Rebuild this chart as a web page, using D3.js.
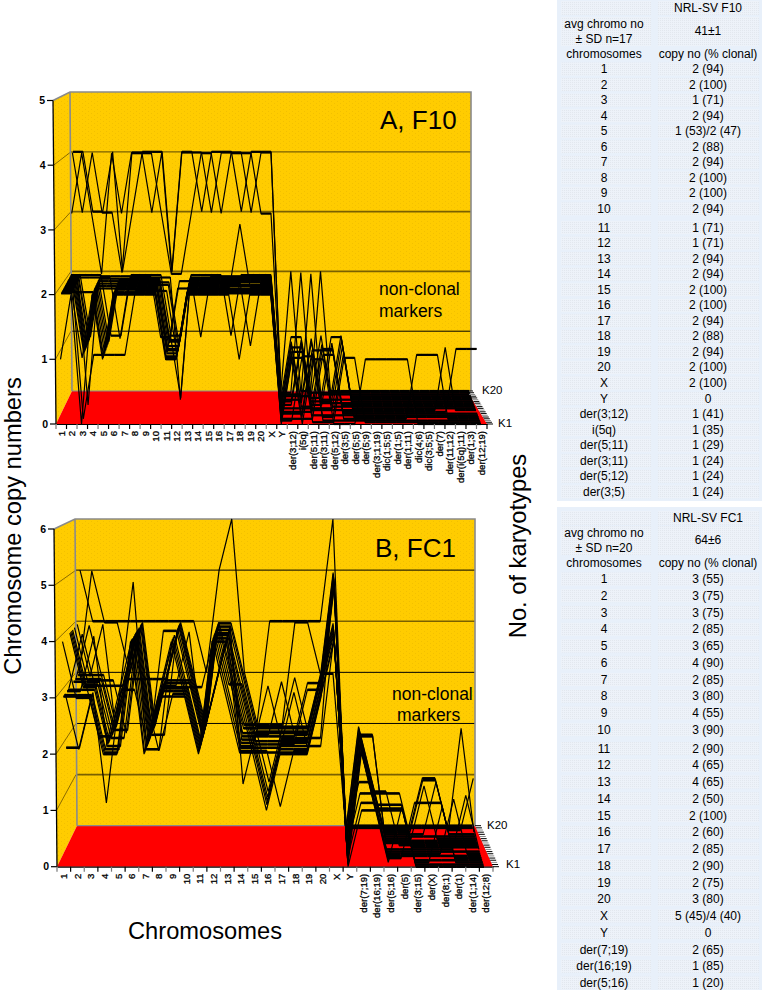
<!DOCTYPE html>
<html>
<head>
<meta charset="utf-8">
<script src="https://cdn.jsdelivr.net/npm/d3@7"></script>
<style>
  body { margin: 0; background: #fff; }
  text { font-family: "Liberation Sans", Arial, sans-serif; fill: #000; }
</style>
</head>
<body>
<svg id="fig" width="762" height="990"></svg>
<script>
// categories
const f10Chromosomes = ['1','2','3','4','5','6','7','8','9','10','11','12','13','14','15','16','17','18','19','20','X','Y',
  'der(3;12)','i(5q)','der(5;11)','der(3;11)','der(5;12)','der(3;5)','der(5;5)','der(5;9)','der(3;1;19)','dic(1;5;5)','der(1;5)',
  'der(1;11)','dic(4;6)','dic(3;5;5)','der(7)','der(11;12)','der(i(5q);11)','der(1;3)','der(12;19)'];
const fc1Chromosomes = ['1','2','3','4','5','6','7','8','9','10','11','12','13','14','15','16','17','18','19','20','X','Y',
  'der(7;19)','der(16;19)','der(5;16)','der(5)','der(3;15)','der(X)','der(8;1)','der(1)','der(1;14)','der(12;8)'];

// copy numbers per karyotype, panel A
const f10K1  = [1,2,0,2,1,2,2,2,2,2,1,1,2,2,2,2,2,1,2,2,2,0, 1,0,1,1,0,0,0,1,1,1,1,1,0,0,0,0,0,0,0];
const f10K2  = [2,2,1,2,1,2,2,2,2,2,1,1,2,2,2,2,2,2,2,2,2,0, 1,1,0,0,0,1,1,0,0,0,0,0,0,0,0,0,0,0,0];
const f10K3  = [2,2,2,2,1,2,2,2,2,2,1,1,2,2,2,2,2,2,2,2,2,0, 0,1,1,0,0,0,0,0,0,0,0,0,0,0,0,0,0,0,0];
const f10K4  = [2,2,0,1,1,1,1,2,2,2,2,1,2,2,2,2,2,2,2,2,2,0, 0,0,0,1,1,0,0,0,0,0,0,0,1,1,1,0,0,0,0];
const f10K5  = [2,2,1,2,1,2,2,2,2,2,1,1,2,2,2,2,2,2,2,2,2,0, 1,0,1,0,0,1,0,0,0,0,0,0,0,0,0,0,0,0,0];
const f10K6  = [2,2,1,2,2,2,2,2,2,2,1,2,2,2,2,2,2,2,2,2,2,0, 1,1,0,0,0,0,0,0,0,0,0,0,0,0,0,0,0,0,0];
const f10K7  = [2,2,1,2,1,2,2,2,2,2,1,1,2,2,2,2,2,3,2,2,2,0, 0,0,1,1,1,0,0,0,0,0,0,0,0,0,0,0,0,0,0];
const f10K8  = [2,2,1,2,2,2,2,2,2,2,1,1,2,2,2,2,2,2,2,2,2,0, 0,0,0,1,1,0,0,0,0,0,0,0,0,0,0,0,1,1,1];
const f10K9  = [2,2,1,2,1,2,2,2,2,2,2,1,2,2,2,2,2,2,2,2,2,0, 1,1,0,0,0,0,0,0,0,0,0,0,0,0,0,1,0,0,0];
const f10K10 = [2,2,1,2,2,2,2,2,2,2,1,1,2,2,2,2,2,2,1,2,2,0, 0,0,0,0,0,1,0,0,0,0,0,0,0,0,0,0,0,0,0];
const f10K11 = [2,2,1,2,1,2,2,2,2,2,2,1,2,2,2,2,2,2,2,2,2,0, 1,0,0,1,0,0,0,0,0,0,0,0,0,0,0,0,0,0,0];
const f10K12 = [2,2,0,2,2,2,2,2,2,2,1,2,2,2,2,2,2,2,2,2,2,0, 0,1,0,0,1,0,0,0,0,0,0,0,0,0,0,0,0,0,0];
const f10K13 = [2,2,1,2,1,2,2,2,2,2,1,1,2,2,2,2,2,2,2,2,2,0, 1,0,1,0,0,0,0,0,0,0,0,0,0,0,0,0,0,0,0];
const f10K14 = [2,2,1,2,2,2,2,2,2,2,1,1,2,2,2,2,2,2,2,2,2,0, 0,1,0,0,0,1,0,0,0,0,0,0,0,0,0,0,0,0,0];
const f10K15 = [2,2,2,2,2,1,2,2,2,2,2,0,2,2,2,2,2,2,2,2,2,0, 0,0,1,0,0,0,0,0,0,0,0,0,0,0,0,0,0,0,0];
const f10K16 = [2,2,1,2,2,2,2,2,2,1,1,0,2,1,2,2,2,2,2,2,2,0, 1,1,0,0,1,1,0,0,0,0,0,0,0,0,0,0,0,0,0];
const f10K17 = [2,2,2,2,1,1,2,2,2,2,1,1,2,2,2,2,1,2,2,2,2,0, 0,0,0,1,0,1,0,0,0,0,0,0,0,0,0,0,0,0,0];
const f10K18 = [3,4,3,2,4,3,4,4,4,3,2,2,3,4,4,3,4,4,4,3,3,0, 0,0,2,0,0,0,0,0,0,0,0,0,0,0,0,0,0,0,0];
const f10K19 = [4,3,4,3,3,2,4,4,3,4,2,4,4,4,3,4,4,4,3,4,4,0, 0,2,0,0,0,0,0,0,0,0,0,0,0,0,0,0,0,0,0];
const f10K20 = [4,4,3,3,4,2,3,4,4,4,2,4,4,3,4,4,4,3,4,4,4,0, 2,0,0,2,0,0,0,0,0,0,0,0,0,0,0,0,0,0,0];
const f10Rows = [f10K1,f10K2,f10K3,f10K4,f10K5,f10K6,f10K7,f10K8,f10K9,f10K10,f10K11,f10K12,f10K13,f10K14,f10K15,f10K16,f10K17,f10K18,f10K19,f10K20];

// copy numbers per karyotype, panel B
const fc1K1  = [4,3,3,2,2,4,2,3,4,3,2,4,4,3,2,1,2,2,2,3,5,0, 1,1,1,1,0,0,0,0,0,0];
const fc1K2  = [3,3,3,2,2,4,2,3,3,3,2,4,3,2,2,2,2,2,2,3,4,0, 2,1,1,1,0,0,0,0,0,0];
const fc1K3  = [3,3,3,2,3,4,3,2,4,3,2,3,4,2,2,2,1,2,2,3,5,0, 2,1,0,1,0,0,1,0,0,0];
const fc1K4  = [3,2,3,2,2,4,2,2,3,3,2,4,4,3,2,1,2,2,2,3,4,0, 2,1,1,1,0,0,0,0,0,0];
const fc1K5  = [2,2,3,1,3,5,2,3,4,3,2,4,3,2,2,2,2,3,2,3,5,0, 1,1,0,0,1,1,1,0,0,0];
const fc1K6  = [3,3,4,2,2,4,2,3,3,3,2,3,4,2,2,1,2,2,2,2,4,0, 2,1,0,0,0,0,0,0,0,0];
const fc1K7  = [3,3,3,2,3,3,2,3,4,3,2,4,4,3,2,2,2,2,3,3,5,0, 2,1,0,0,0,0,0,1,0,0];
const fc1K8  = [3,4,3,2,3,4,2,3,3,3,2,4,3,2,2,1,2,2,2,3,4,0, 2,1,0,0,0,0,0,0,0,0];
const fc1K9  = [4,3,3,2,3,4,2,3,3,3,3,4,4,3,2,2,2,2,2,3,5,0, 2,1,0,0,0,0,0,0,1,0];
const fc1K10 = [4,3,3,3,3,4,2,3,3,4,2,3,4,2,2,3,2,2,2,3,4,0, 1,1,1,1,0,0,0,0,0,0];
const fc1K11 = [4,3,3,2,2,4,2,4,4,3,2,4,3,3,2,1,2,2,2,2,5,0, 2,1,1,0,0,0,0,0,0,0];
const fc1K12 = [4,3,2,2,3,4,2,3,3,3,2,4,4,2,2,2,2,2,3,3,4,0, 2,2,0,0,0,0,0,0,0,0];
const fc1K13 = [3,3,3,2,3,4,2,2,4,3,2,3,4,3,2,2,3,2,2,3,5,0, 2,2,0,0,0,0,0,0,0,0];
const fc1K14 = [4,3,3,3,2,4,2,3,3,3,2,4,3,2,2,2,2,2,2,3,4,0, 2,1,0,0,0,1,0,0,0,0];
const fc1K15 = [3,3,3,2,3,3,3,3,4,3,2,4,4,1,2,2,2,2,2,3,5,0, 2,1,0,0,0,0,0,0,0,0];
const fc1K16 = [3,4,3,2,2,4,2,3,4,3,2,3,4,3,2,1,2,3,2,3,4,0, 1,1,0,0,0,0,1,0,0,0];
const fc1K17 = [4,3,4,2,3,4,2,3,4,3,2,4,3,2,2,2,2,2,2,3,5,0, 2,1,0,0,0,1,1,0,2,0];
const fc1K18 = [3,3,3,2,3,4,2,3,4,3,2,4,4,3,2,2,2,2,2,3,4,0, 2,1,0,0,0,1,1,0,0,1];
const fc1K19 = [3,5,4,4,3,4,2,3,4,3,2,4,3,2,2,2,2,4,4,3,3,0, 0,0,0,0,0,0,0,0,0,0];
const fc1K20 = [5,4,4,4,4,4,4,4,4,4,3,5,6,3,2,4,4,4,4,4,6,0, 0,0,0,0,0,0,0,0,0,0];
const fc1Rows = [fc1K1,fc1K2,fc1K3,fc1K4,fc1K5,fc1K6,fc1K7,fc1K8,fc1K9,fc1K10,fc1K11,fc1K12,fc1K13,fc1K14,fc1K15,fc1K16,fc1K17,fc1K18,fc1K19,fc1K20];

// tick labels
const f10Ticks = [0,1,2,3,4,5];
const fc1Ticks = [0,1,2,3,4,5,6];

// table contents
const f10TableChromo = ['1','2','3','4','5','6','7','8','9','10','11','12','13','14','15','16','17','18','19','20','X','Y',
  'der(3;12)','i(5q)','der(5;11)','der(3;11)','der(5;12)','der(3;5)'];
const f10TableCopy = ['2 (94)','2 (100)','1 (71)','2 (94)','1 (53)/2 (47)','2 (88)','2 (94)','2 (100)','2 (100)','2 (94)',
  '1 (71)','1 (71)','2 (94)','2 (94)','2 (100)','2 (100)','2 (94)','2 (88)','2 (94)','2 (100)','2 (100)','0',
  '1 (41)','1 (35)','1 (29)','1 (24)','1 (24)','1 (24)'];
const fc1TableChromo = ['1','2','3','4','5','6','7','8','9','10','11','12','13','14','15','16','17','18','19','20','X','Y',
  'der(7;19)','der(16;19)','der(5;16)'];
const fc1TableCopy = ['3 (55)','3 (75)','3 (75)','2 (85)','3 (65)','4 (90)','2 (85)','3 (80)','4 (55)','3 (90)',
  '2 (90)','4 (65)','4 (65)','2 (50)','2 (100)','2 (60)','2 (85)','2 (90)','2 (75)','3 (80)','5 (45)/4 (40)','0',
  '2 (65)','1 (85)','1 (20)'];

const GOLD = '#ffcc00', RED = '#ff0000', WALL = '#8a8a8a';
const svg = d3.select('#fig');

// faint dots on the walls and table cells
const defs = svg.append('defs');
const dots = defs.append('pattern').attr('id', 'wallDots').attr('width', 6).attr('height', 4)
  .attr('patternUnits', 'userSpaceOnUse');
dots.append('rect').attr('width', 6).attr('height', 4).attr('fill', GOLD);
dots.append('rect').attr('x', 1).attr('y', 1).attr('width', 1).attr('height', 1).attr('fill', '#f2c000');
dots.append('rect').attr('x', 4).attr('y', 3).attr('width', 1).attr('height', 1).attr('fill', '#f2c000');
const cell = defs.append('pattern').attr('id', 'cellDots').attr('width', 2).attr('height', 2)
  .attr('patternUnits', 'userSpaceOnUse');
cell.append('rect').attr('width', 2).attr('height', 2).attr('fill', '#edf2f9');
cell.append('rect').attr('width', 1).attr('height', 1).attr('fill', '#e2e7ee');

const poly = pts => 'M' + pts.map(p => p.join(',')).join('L') + 'Z';

const drawPanel = (p) => {
  const g = svg.append('g');
  const n = p.categories.length, maxV = d3.max(p.ticks);
  const depth = d3.scaleLinear().domain([0, p.rows.length - 1]).range([0, 1]);

  // front and back planes of the 3D box
  const frontX = d3.scaleLinear().domain([0, n - 1]).range(p.frontX);
  const backX = d3.scaleLinear().domain([0, n - 1]).range(p.backX);
  const frontY = d3.scaleLinear().domain([0, maxV]).range(p.frontY);
  const backY = d3.scaleLinear().domain([0, maxV]).range(p.backY);
  const px = (i, k) => frontX(i) + (backX(i) - frontX(i)) * depth(k);
  const py = (v, k) => frontY(v) + (backY(v) - frontY(v)) * depth(k);

  const axisX = d3.scaleLinear().domain([0, maxV]).range([p.floor[0][0], p.sideTop[0]]);
  const b = p.back;

  // walls and floor
  g.append('path').attr('d', poly([p.sideTop, [b.left, b.top], [b.left + 2, b.bottom], p.floor[0]]))
    .attr('fill', 'url(#wallDots)');
  g.append('path').attr('d', poly([[b.left, b.top], [b.right, b.top], [b.right, b.bottom], [b.left + 2, b.bottom]]))
    .attr('fill', 'url(#wallDots)');
  g.append('path').attr('d', poly([p.floor[0], [b.left + 2, b.bottom], p.floor[1], p.floor[2]]))
    .attr('fill', RED);

  // grid on the back and side walls
  const inner = p.ticks.filter(v => v > 0 && v < maxV);
  g.selectAll('.gridBack').data(inner).join('line')
    .attr('x1', b.left + 1).attr('x2', b.right)
    .attr('y1', v => backY(v)).attr('y2', v => backY(v))
    .attr('stroke', (v, i) => p.gridColors[i]).attr('stroke-width', (v, i) => p.gridWidths[i]);
  g.selectAll('.gridSide').data(inner).join('line')
    .attr('x1', v => axisX(v)).attr('x2', b.left + 1)
    .attr('y1', v => frontY(v)).attr('y2', v => backY(v))
    .attr('stroke', '#8a6a00').attr('stroke-width', 1);

  // frame
  g.append('path').attr('d', 'M' + p.sideTop.join(',') + 'L' + b.left + ',' + b.top + 'L' + b.right + ',' + b.top + 'L' + b.right + ',' + b.bottom)
    .attr('fill', 'none').attr('stroke', WALL).attr('stroke-width', 1.6);
  g.append('line').attr('x1', b.left).attr('y1', b.top).attr('x2', b.left + 2).attr('y2', b.bottom)
    .attr('stroke', WALL).attr('stroke-width', 1.6);
  g.append('line').attr('x1', b.left + 2).attr('y1', b.bottom).attr('x2', b.right).attr('y2', b.bottom)
    .attr('stroke', WALL).attr('stroke-width', 1.2);

  // one line per karyotype, back to front
  const line = d3.line();
  p.rows.map((row, k) => ({ row, k })).reverse().forEach(({ row, k }) => {
    g.append('path')
      .attr('d', line(row.map((v, i) => [px(i, k), py(v, k)])))
      .attr('fill', 'none').attr('stroke', '#000').attr('stroke-width', 1.2)
      .attr('stroke-linejoin', 'miter').attr('stroke-miterlimit', 3);
    // flat runs close up with the neighbouring karyotypes
    row.forEach((v, i) => {
      if (i < row.length - 1 && row[i + 1] === v) {
        g.append('path')
          .attr('d', line([[px(i, k), py(v, k)], [px(i + 1, k), py(v, k)]]))
          .attr('fill', 'none').attr('stroke', '#000').attr('stroke-width', p.flatWidth);
      }
    });
  });

  // y axis, leaning with the front corner of the box
  g.append('line').attr('x1', p.floor[0][0]).attr('y1', frontY(0)).attr('x2', p.sideTop[0]).attr('y2', frontY(maxV))
    .attr('stroke', '#000').attr('stroke-width', 1.3);
  const yt = g.selectAll('.ytick').data(p.ticks).join('g');
  yt.append('line').attr('x1', v => axisX(v) - 6).attr('x2', v => axisX(v))
    .attr('y1', v => frontY(v)).attr('y2', v => frontY(v)).attr('stroke', '#000').attr('stroke-width', 1.2);
  yt.append('text').attr('x', v => axisX(v) - 8).attr('y', v => frontY(v) + 3.6)
    .attr('text-anchor', 'end').attr('font-size', 10.5).attr('font-weight', 700).text(v => v);

  // x axis: ticks on the band edges, labels in the band middle
  const band = d3.scaleBand().domain(p.categories).range([p.floor[0][0], p.floor[2][0]]);
  const xAxis = g.append('g').attr('transform', 'translate(0,' + frontY(0) + ')')
    .call(d3.axisBottom(band).tickSize(0).tickPadding(0));
  xAxis.select('.domain').attr('stroke', '#000').attr('stroke-width', 1.2);
  xAxis.selectAll('.tick text')
    .attr('transform', 'rotate(-90)').attr('text-anchor', 'end')
    .attr('x', -7).attr('y', 0).attr('dy', '0.34em')
    .attr('font-family', '"Liberation Sans", Arial, sans-serif')
    .attr('font-size', 9.6).attr('stroke', '#000').attr('stroke-width', 0.3).attr('fill', '#000');
  xAxis.selectAll('.edge').data(p.categories.concat(['end'])).join('line')
    .attr('x1', (d, i) => band.step() * i + p.floor[0][0]).attr('x2', (d, i) => band.step() * i + p.floor[0][0])
    .attr('y1', 0).attr('y2', 5).attr('stroke', (d, i) => i % 2 ? '#000' : '#777').attr('stroke-width', 1.2);

  // karyotype ticks along the right edge of the floor
  g.selectAll('.comb').data(p.rows).join('line')
    .attr('x1', (d, k) => p.floor[2][0] + (p.floor[1][0] - p.floor[2][0]) * depth(k))
    .attr('x2', (d, k) => p.floor[2][0] + (p.floor[1][0] - p.floor[2][0]) * depth(k) + 6)
    .attr('y1', (d, k) => frontY(0) + (b.bottom - frontY(0)) * depth(k))
    .attr('y2', (d, k) => frontY(0) + (b.bottom - frontY(0)) * depth(k))
    .attr('stroke', (d, k) => k % 3 === 2 ? '#888' : '#000').attr('stroke-width', 1);
  g.append('text').attr('x', p.k20[0]).attr('y', p.k20[1]).attr('font-size', 11.5).text('K20');
  g.append('text').attr('x', p.k1[0]).attr('y', p.k1[1]).attr('font-size', 11.5).text('K1');

  // annotations
  g.append('text').attr('x', p.title[0]).attr('y', p.title[1]).attr('font-size', 26).text(p.titleText);
  p.notes.forEach(t => {
    g.append('text').attr('x', t[0]).attr('y', t[1]).attr('font-size', 17.5).attr('fill', '#111').text(t[2]);
  });
};

drawPanel({
  categories: f10Chromosomes, rows: f10Rows, ticks: f10Ticks, flatWidth: 2.2,
  frontX: [60.5, 481], backX: [73, 469],
  frontY: [424, 100.5], backY: [391, 92],
  sideTop: [53, 100.5], back: { left: 70, right: 471, top: 92, bottom: 391 },
  floor: [[56, 424], [467, 391], [487, 424]],
  gridColors: ['#000', '#7a6000', '#7a6000', '#7a6000'], gridWidths: [1, 1.6, 1.6, 1.2],
  k20: [482, 394], k1: [498, 427],
  title: [380, 129], titleText: 'A, F10',
  notes: [[379, 295, 'non-clonal'], [379, 317, 'markers']]
});

drawPanel({
  categories: fc1Chromosomes, rows: fc1Rows, ticks: fc1Ticks, flatWidth: 2.6,
  frontX: [62.5, 484], backX: [80, 472],
  frontY: [866.7, 529], backY: [825.7, 519],
  sideTop: [54, 529], back: { left: 75, right: 475, top: 519, bottom: 825.7 },
  floor: [[57, 866.7], [475, 825.7], [493, 866.7]],
  gridColors: ['#7a6000', '#000', '#000', '#7a6000', '#000'], gridWidths: [1.6, 1, 1, 1.6, 1],
  k20: [487, 829], k1: [506, 868],
  title: [375, 557], titleText: 'B, FC1',
  notes: [[392, 700, 'non-clonal'], [397, 721, 'markers']]
});

// axis titles
svg.append('text').attr('transform', 'translate(21,526) rotate(-90)').attr('text-anchor', 'middle')
  .attr('font-size', 23.7).text('Chromosome copy numbers');
svg.append('text').attr('x', 128).attr('y', 939).attr('font-size', 23.7).text('Chromosomes');
svg.append('text').attr('transform', 'translate(526,546) rotate(-90)').attr('text-anchor', 'middle')
  .attr('font-size', 23.7).text('No. of karyotypes');

// tables
const drawTable = (t) => {
  const g = svg.append('g').attr('font-size', 12);
  g.append('rect').attr('x', 557).attr('y', t.top).attr('width', 205).attr('height', t.height).attr('fill', '#e8f0fa');
  const rowY = i => t.first + t.step * i + (i >= 10 ? t.gap : 0);
  const cellRect = (x, w, y, h) => g.append('rect').attr('x', x).attr('y', y).attr('width', w).attr('height', h)
    .attr('fill', 'url(#cellDots)');
  const label = (x, y, s) => g.append('text').attr('x', x).attr('y', y + 4).attr('text-anchor', 'middle')
    .attr('fill', '#1c1c1c').text(s);

  // header rows
  cellRect(561, 90, t.head - 7, 14); cellRect(658, 101, t.head - 7, 14);
  cellRect(561, 90, t.avg - 7, 29); cellRect(658, 101, t.avg - 7, 29);
  label(708, t.head, t.name);
  label(604, t.avg, 'avg chromo no');
  label(604, t.avg + 14.5, t.sd);
  label(708, t.avg + 7, t.mean);
  label(604, t.head2, 'chromosomes');
  label(708, t.head2, 'copy no (% clonal)');

  t.chromo.forEach((c, i) => {
    cellRect(561, 90, rowY(i) - 6.5, 13);
    cellRect(658, 101, rowY(i) - 6.5, 13);
    label(604, rowY(i), c);
    label(708, rowY(i), t.copy[i]);
  });
};

drawTable({
  top: 0, height: 501, chromo: f10TableChromo, copy: f10TableCopy,
  name: 'NRL-SV F10', mean: '41±1', sd: '± SD n=17',
  head: 8, avg: 24, head2: 54, first: 69, step: 15.55, gap: 3
});
drawTable({
  top: 507, height: 483, chromo: fc1TableChromo, copy: fc1TableCopy,
  name: 'NRL-SV FC1', mean: '64±6', sd: '± SD n=20',
  head: 518, avg: 533, head2: 563, first: 579, step: 16.75, gap: 2
});
</script>
</body>
</html>
